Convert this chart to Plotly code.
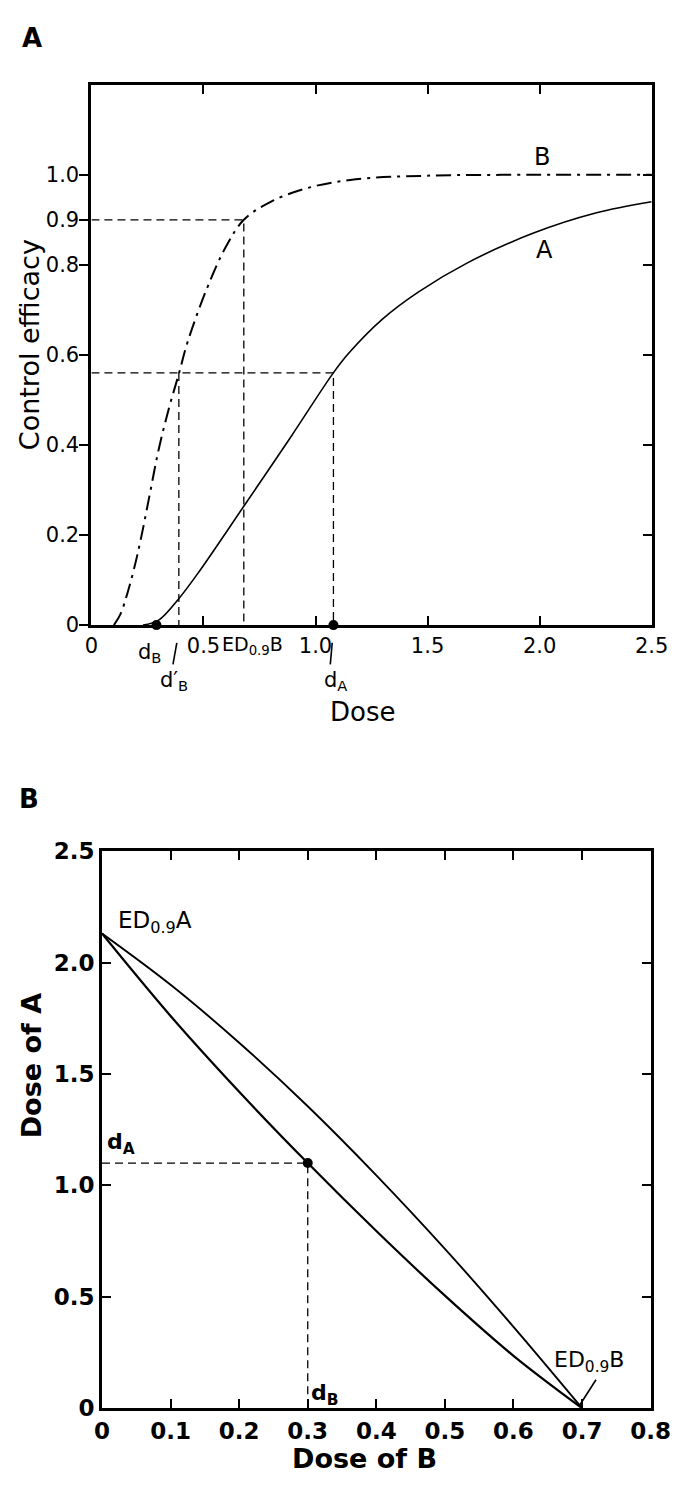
import plotly.graph_objects as go

W, H = 686, 1488
FONT = "DejaVu Sans"

# ---------------- Panel A data ----------------
dose_B = [0.10, 0.13, 0.16, 0.19, 0.22, 0.26, 0.30, 0.345, 0.39, 0.43, 0.515, 0.60, 0.68, 0.80, 0.975, 1.18, 1.5, 2.0, 2.5]
eff_B = [0.0, 0.025, 0.07, 0.125, 0.19, 0.29, 0.39, 0.48, 0.558, 0.63, 0.747, 0.84, 0.90, 0.94, 0.972, 0.99, 0.998, 1.0, 1.0]
dose_A = [0.23, 0.30, 0.387, 0.485, 0.68, 0.886, 1.078, 1.147, 1.30, 1.46, 1.68, 1.97, 2.25, 2.5]
eff_A = [0.0, 0.011, 0.057, 0.122, 0.264, 0.415, 0.559, 0.603, 0.68, 0.74, 0.805, 0.87, 0.915, 0.94]

top_dB = 0.29
top_dB_prime = 0.39
top_ED09B = 0.68
top_dA = 1.08
eff_high = 0.9
eff_mix = 0.56

top_xticks = [0, 0.5, 1.0, 1.5, 2.0, 2.5]
top_xticktext = ["0", "0.5", "1.0", "1.5", "2.0", "2.5"]
top_yticks = [0, 0.2, 0.4, 0.6, 0.8, 0.9, 1.0]
top_yticktext = ["0", "0.2", "0.4", "0.6", "0.8", "0.9", "1.0"]
top_yticks_right = [0.2, 0.4, 0.6, 0.8, 1.0]

# ---------------- Panel B data ----------------
doseB_grid = [0.0, 0.1, 0.2, 0.3, 0.4, 0.5, 0.6, 0.7]
upper_doseA = [2.13, 1.90, 1.64, 1.355, 1.045, 0.715, 0.365, 0.0]
lower_doseA = [2.13, 1.76, 1.42, 1.10, 0.795, 0.505, 0.235, 0.0]
bot_dB = 0.3
bot_dA = 1.1

bot_xticks = [0, 0.1, 0.2, 0.3, 0.4, 0.5, 0.6, 0.7, 0.8]
bot_xticktext = ["0", "0.1", "0.2", "0.3", "0.4", "0.5", "0.6", "0.7", "0.8"]
bot_yticks = [0, 0.5, 1.0, 1.5, 2.0, 2.5]
bot_yticktext = ["0", "0.5", "1.0", "1.5", "2.0", "2.5"]


def px(x):
    return x / W


def py(y):
    return 1 - y / H


fig = go.Figure()

# Panel A curves
fig.add_trace(go.Scatter(x=dose_B, y=eff_B, mode="lines",
                         line=dict(color="black", width=2, dash="15px,6px,3px,6px", shape="spline", smoothing=1.0),
                         xaxis="x", yaxis="y", hoverinfo="skip"))
fig.add_trace(go.Scatter(x=dose_A, y=eff_A, mode="lines",
                         line=dict(color="black", width=1.6, shape="spline", smoothing=1.0),
                         xaxis="x", yaxis="y", hoverinfo="skip"))

dash_style = dict(color="black", width=1.3, dash="8px,5px")
fig.add_trace(go.Scatter(x=[0, top_ED09B, top_ED09B], y=[eff_high, eff_high, 0], mode="lines",
                         line=dash_style, xaxis="x", yaxis="y", hoverinfo="skip"))
fig.add_trace(go.Scatter(x=[0, top_dA, top_dA], y=[eff_mix, eff_mix, 0], mode="lines",
                         line=dash_style, xaxis="x", yaxis="y", hoverinfo="skip"))
fig.add_trace(go.Scatter(x=[top_dB_prime, top_dB_prime], y=[eff_mix, 0], mode="lines",
                         line=dash_style, xaxis="x", yaxis="y", hoverinfo="skip"))
fig.add_trace(go.Scatter(x=[top_dB, top_dA], y=[0, 0], mode="markers",
                         marker=dict(color="black", size=10), cliponaxis=False,
                         xaxis="x", yaxis="y", hoverinfo="skip"))
fig.add_trace(go.Scatter(x=[None], y=[None], xaxis="x", yaxis="y3", hoverinfo="skip"))

# Panel B curves
fig.add_trace(go.Scatter(x=doseB_grid, y=upper_doseA, mode="lines",
                         line=dict(color="black", width=1.9, shape="spline", smoothing=1.0),
                         xaxis="x2", yaxis="y2", hoverinfo="skip"))
fig.add_trace(go.Scatter(x=doseB_grid, y=lower_doseA, mode="lines",
                         line=dict(color="black", width=2.2, shape="spline", smoothing=1.0),
                         xaxis="x2", yaxis="y2", hoverinfo="skip"))
fig.add_trace(go.Scatter(x=[0, bot_dB, bot_dB], y=[bot_dA, bot_dA, 0], mode="lines",
                         line=dash_style, xaxis="x2", yaxis="y2", hoverinfo="skip"))
fig.add_trace(go.Scatter(x=[bot_dB], y=[bot_dA], mode="markers",
                         marker=dict(color="black", size=10),
                         xaxis="x2", yaxis="y2", hoverinfo="skip"))

tick_font_A = dict(family=FONT, size=21, color="black")
tick_font_B = dict(family=FONT, size=23, color="black", weight="bold")

axis_common = dict(showgrid=False, zeroline=False, showline=True, linecolor="black",
                   linewidth=3, tickcolor="black", tickwidth=2, ticklen=9,
                   ticklabeloverflow="allow")

fig.update_layout(
    width=W, height=H,
    margin=dict(l=0, r=0, t=0, b=0),
    paper_bgcolor="white", plot_bgcolor="white",
    showlegend=False,
    font=dict(family=FONT, color="black"),
    xaxis=dict(domain=[px(87), px(671)], range=[0, 2.5], anchor="y",
               tickmode="array", tickvals=top_xticks, ticktext=top_xticktext,
               ticks="inside", mirror="ticks", tickfont=tick_font_A, **axis_common),
    yaxis=dict(domain=[py(623), py(73)], range=[0, 1.2], anchor="x",
               tickmode="array", tickvals=top_yticks, ticktext=top_yticktext,
               ticks="outside", mirror=True, tickfont=tick_font_A,
               ticklabelstandoff=-4, **axis_common),
    yaxis3=dict(overlaying="y", side="right", anchor="x", range=[0, 1.2],
                tickmode="array", tickvals=top_yticks_right, ticks="inside",
                showticklabels=False, showgrid=False, zeroline=False, showline=False,
                tickcolor="black", tickwidth=2, ticklen=9),
    xaxis2=dict(domain=[px(98), px(670)], range=[0, 0.8], anchor="y2",
                tickmode="array", tickvals=bot_xticks, ticktext=bot_xticktext,
                ticks="inside", mirror="ticks", tickfont=tick_font_B, **axis_common),
    yaxis2=dict(domain=[py(1420), py(853)], range=[0, 2.5], anchor="x2",
                tickmode="array", tickvals=bot_yticks, ticktext=bot_yticktext,
                ticks="inside", mirror="ticks", tickfont=tick_font_B, **axis_common),
)

ann = []


def paper_text(x, y, text, size=22, bold=False, angle=0):
    ann.append(dict(xref="paper", yref="paper", x=px(x), y=py(y), text=text,
                    showarrow=False, textangle=angle, xanchor="center", yanchor="middle",
                    font=dict(family=FONT, size=size, color="black",
                              weight="bold" if bold else "normal")))


def data_text(xr, yr, x, y, text, size=21, bold=False):
    ann.append(dict(xref=xr, yref=yr, x=x, y=y, text=text, showarrow=False,
                    xanchor="center", yanchor="middle",
                    font=dict(family=FONT, size=size, color="black",
                              weight="bold" if bold else "normal")))


# Panel letters & axis titles
paper_text(25, 25, "A", size=26, bold=True)
paper_text(22, 800, "B", size=26, bold=True)
paper_text(22, 338, "Control efficacy", size=27, angle=-90)
paper_text(370, 711, "Dose", size=26)
paper_text(24, 1072, "Dose of A", size=27, bold=True, angle=-90)
paper_text(372, 1471, "Dose of B", size=27, bold=True)

# Panel A labels
data_text("x", "y", 2.01, 1.04, "B", size=24)
data_text("x", "y", 2.02, 0.834, "A", size=24)
data_text("x", "paper", top_dB - 0.03, py(651), "d<sub>B</sub>", size=21)
data_text("x", "paper", top_dB_prime - 0.02, py(680), "d′<sub>B</sub>", size=21)
data_text("x", "paper", top_ED09B + 0.04, py(644), "ED<sub>0.9</sub>B", size=19)
data_text("x", "paper", top_dA + 0.01, py(680), "d<sub>A</sub>", size=21)

# Panel B labels
data_text("x2", "y2", 0.077, 2.18, "ED<sub>0.9</sub>A", size=23)
data_text("x2", "y2", 0.027, 1.19, "d<sub>A</sub>", size=22, bold=True)
data_text("x2", "y2", 0.325, 0.06, "d<sub>B</sub>", size=22, bold=True)
data_text("x2", "y2", 0.71, 0.21, "ED<sub>0.9</sub>B", size=22)

fig.update_layout(annotations=ann)

for (x0, y0, x1, y1) in [(176, 641, 172, 663), (338, 641, 336, 663), (596, 1417, 613, 1391)]:
    fig.add_shape(type="line", xref="paper", yref="paper",
                  x0=px(x0), y0=py(y0), x1=px(x1), y1=py(y1),
                  line=dict(color="black", width=1.6))

fig.write_html("out.html")
